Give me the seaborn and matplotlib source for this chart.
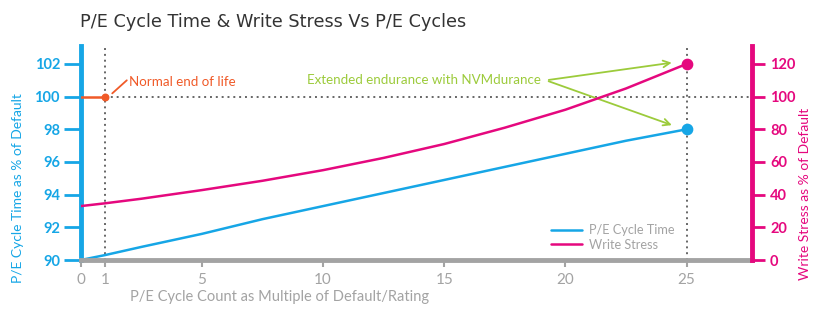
import matplotlib
matplotlib.use("Agg")
import matplotlib.pyplot as plt
import seaborn as sns
import pandas as pd

# ---- data ----
cycles = [0, 1, 2.5, 5, 7.5, 10, 12.5, 15, 17.5, 20, 22.5, 25]
cycle_time = [90, 90.3, 90.8, 91.6, 92.5, 93.3, 94.1, 94.9, 95.7, 96.5, 97.3, 98]
write_stress = [33, 34.7, 37.5, 42.8, 48.5, 55, 62.5, 71, 81, 92, 105, 120]
x_ticks = [0, 1, 5, 10, 15, 20, 25]
left_ticks = [90, 92, 94, 96, 98, 100, 102]
right_ticks = [0, 20, 40, 60, 80, 100, 120]
end_of_life_x = [0, 1]
end_of_life_y = [100, 100]

BLUE = "#16a6e6"
PINK = "#e5087e"
GRAY = "#a3a3a3"
ORANGE = "#f05a28"
GREEN = "#9ccb3b"

sns.set_theme(style="white")
plt.rcParams['font.family'] = ['Lato', 'DejaVu Sans']

df = pd.DataFrame({"x": cycles, "time": cycle_time, "stress": write_stress})

fig = plt.figure(figsize=(8.17, 3.26), dpi=100)
W, H = 817, 326
x0, x1, ybot, ytop = 80.75, 752, 260, 46
ax = fig.add_axes([x0 / W, (H - ybot) / H, (x1 - x0) / W, (ybot - ytop) / H])
ax2 = ax.twinx()

sns.lineplot(data=df, x="x", y="time", ax=ax, color=BLUE, lw=1.8, label="P/E Cycle Time", legend=False)
sns.lineplot(data=df, x="x", y="stress", ax=ax2, color=PINK, lw=1.8, label="Write Stress", legend=False)

ax.set_xlim(0, 27.7)
ax.set_ylim(90, 103.1)
ax2.set_ylim(0, 131)

# reference lines
ax.axvline(1, color="#666666", ls=(0, (1, 2)), lw=1.4, zorder=1)
ax.axvline(25, color="#666666", ls=(0, (1, 2)), lw=1.4, zorder=1)
ax.plot([1, 27.7], [100, 100], color="#666666", ls=(0, (1, 2)), lw=1.4, zorder=1)
ax.plot(end_of_life_x, end_of_life_y, color=ORANGE, lw=1.8, zorder=3)
ax.scatter([end_of_life_x[-1]], [end_of_life_y[-1]], color=ORANGE, s=22, zorder=4)

# end markers
ax.scatter([cycles[-1]], [cycle_time[-1]], color=BLUE, s=55, zorder=5)
ax2.scatter([cycles[-1]], [write_stress[-1]], color=PINK, s=55, zorder=5)

# spines
for a in (ax, ax2):
    for s in a.spines.values():
        s.set_visible(False)
ax.spines["left"].set_visible(True)
ax.spines["left"].set_color(BLUE)
ax.spines["left"].set_linewidth(3.5)
ax.spines["bottom"].set_visible(True)
ax.spines["bottom"].set_color(GRAY)
ax.spines["bottom"].set_linewidth(3.5)
ax2.spines["right"].set_visible(True)
ax2.spines["right"].set_color(PINK)
ax2.spines["right"].set_linewidth(3.5)

ax.set_xticks(x_ticks)
ax.set_yticks(left_ticks)
ax2.set_yticks(right_ticks)
ax.tick_params(axis="x", colors=GRAY, length=5, width=1.5, labelsize=11, pad=4, bottom=True)
ax.tick_params(axis="y", colors=BLUE, length=12, width=2, labelsize=10.5, pad=3, left=True)
ax2.tick_params(axis="y", colors=PINK, length=9, width=2, labelsize=10.5, pad=4, right=True)
for t in ax.get_yticklabels():
    t.set_fontweight("bold")
for t in ax2.get_yticklabels():
    t.set_fontweight("bold")
ax.set_xlabel("")
ax.set_ylabel("")
ax2.set_ylabel("")

# axis titles
fig.text(18 / W, 1 - 188 / H, "P/E Cycle Time as % of Default", rotation=90, color=BLUE,
         fontsize=10, ha="center", va="center")
fig.text(805 / W, 1 - 194 / H, "Write Stress as % of Default", rotation=90, color=PINK,
         fontsize=10, ha="center", va="center")
fig.text(130 / W, 1 - 297 / H, "P/E Cycle Count as Multiple of Default/Rating", color=GRAY,
         fontsize=10.5, ha="left", va="center")
fig.text(80 / W, 1 - 22 / H, "P/E Cycle Time & Write Stress Vs P/E Cycles", color="#333333",
         fontsize=12.7, ha="left", va="center", family=["DejaVu Sans"])

# annotations
ax.plot([1.3, 1.9], [100.2, 101.0], color=ORANGE, lw=1.3)
ax.text(2.0, 100.9, "Normal end of life", color=ORANGE, fontsize=9.6, va="center", ha="left")
ax.text(19.0, 101.0, "Extended endurance with NVMdurance", color=GREEN, fontsize=9.6,
        va="center", ha="right")
for ty in (102.1, 98.2):
    ax.annotate("", xy=(24.5, ty), xytext=(19.2, 101.0),
                arrowprops=dict(arrowstyle="->", color=GREEN, lw=1.3))

# legend
h1, l1 = ax.get_legend_handles_labels()
h2, l2 = ax2.get_legend_handles_labels()
leg = ax2.legend(h1 + h2, l1 + l2, loc="upper left",
                 bbox_to_anchor=((546 - x0) / (x1 - x0), (260 - 219) / (260 - 46)),
                 frameon=False, fontsize=9.2, handlelength=2.4, labelspacing=0.2, handletextpad=0.6,
                 borderaxespad=0)
for t in leg.get_texts():
    t.set_color(GRAY)

fig.savefig("out.png", dpi=100)
